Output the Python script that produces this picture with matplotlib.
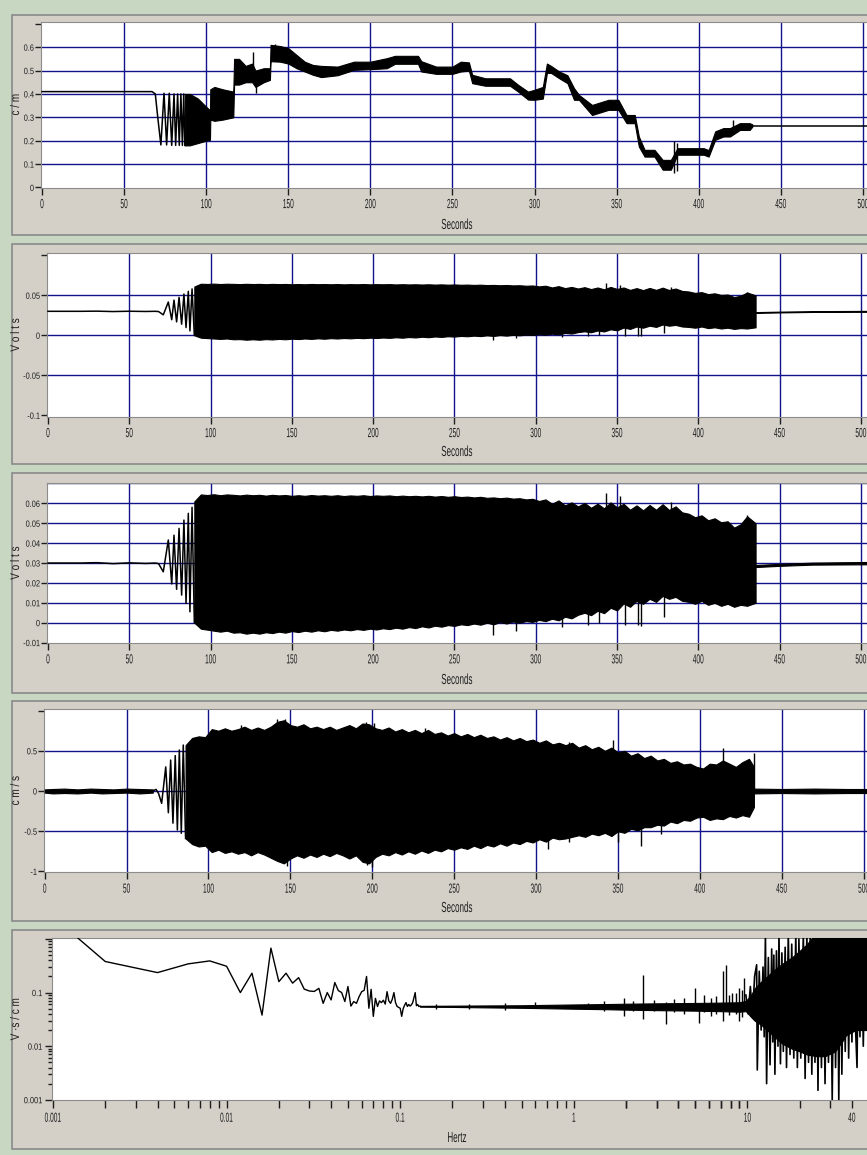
import matplotlib.pyplot as plt
from matplotlib import patheffects
from matplotlib.patches import Rectangle
from matplotlib.ticker import NullFormatter
from matplotlib.transforms import Affine2D

plt.rcParams['font.family'] = ['Liberation Sans', 'DejaVu Sans']
plt.rcParams['axes.unicode_minus'] = False

# ---------------- displacement (c/m) ----------------
t_cm_trace = [0, 67, 69, 70.5, 72.4, 74.3, 75.9, 77.5, 79.0, 80.4, 81.4, 82.6, 83.6, 84.6, 85.5, 86.3, 87.0]
cm_trace = [0.41, 0.41, 0.40, 0.30, 0.182, 0.403, 0.182, 0.403, 0.18, 0.40, 0.18, 0.40, 0.18, 0.40, 0.18, 0.40, 0.18]
t_cm_band = [87, 90, 95, 100, 102.3, 102.5, 105, 110, 116.5, 117, 120, 124, 128, 130, 135,
             138.8, 139.2, 145, 150, 155, 160, 165, 170, 180, 190, 200, 210, 215, 229, 231,
             240, 250, 255, 260, 262, 270, 285, 290, 296, 300, 305, 307.5, 310, 315, 320,
             324, 327, 335, 345, 351, 356, 361, 363.5, 367, 373, 378, 383, 387, 395, 403,
             406, 410, 415, 419, 425, 431, 432.6]
cm_hi = [0.40, 0.40, 0.38, 0.345, 0.33, 0.42, 0.43, 0.42, 0.41, 0.55, 0.55, 0.52, 0.53, 0.50, 0.51,
         0.51, 0.61, 0.605, 0.596, 0.567, 0.538, 0.524, 0.52, 0.517, 0.538, 0.538, 0.553, 0.563, 0.563, 0.54,
         0.517, 0.517, 0.538, 0.535, 0.482, 0.467, 0.467, 0.439, 0.41, 0.418, 0.43, 0.53, 0.52, 0.496, 0.48,
         0.425, 0.396, 0.353, 0.375, 0.375, 0.31, 0.31, 0.218, 0.161, 0.161, 0.118, 0.118, 0.168, 0.168, 0.168,
         0.16, 0.24, 0.254, 0.254, 0.275, 0.275, 0.27]
cm_lo = [0.18, 0.18, 0.19, 0.20, 0.204, 0.29, 0.285, 0.29, 0.30, 0.44, 0.44, 0.45, 0.45, 0.43, 0.45,
         0.46, 0.54, 0.538, 0.53, 0.51, 0.496, 0.482, 0.472, 0.48, 0.503, 0.506, 0.51, 0.529, 0.529, 0.496,
         0.486, 0.486, 0.496, 0.50, 0.446, 0.435, 0.435, 0.41, 0.376, 0.375, 0.38, 0.49, 0.49, 0.467, 0.446,
         0.375, 0.375, 0.31, 0.332, 0.332, 0.275, 0.275, 0.175, 0.132, 0.132, 0.076, 0.076, 0.14, 0.14, 0.14,
         0.132, 0.204, 0.218, 0.218, 0.246, 0.246, 0.26]
t_cm_spk = [122, 128.6, 130.5, 142, 385, 386.5, 421]
cm_spk_lo = [0.45, 0.46, 0.405, 0.55, 0.062, 0.07, 0.25]
cm_spk_hi = [0.53, 0.58, 0.50, 0.615, 0.20, 0.19, 0.29]
t_cm_tail = [432.6, 510]
cm_tail = [0.264, 0.264]

# ---------------- sensor output (Volts) ----------------
t_v_trace = [0, 20, 30, 40, 50, 60, 66, 68, 70.9, 74.0, 76.1, 77.5, 79.1, 80.6, 82.2, 83.6,
             84.9, 86.3, 87.3, 88.6, 90]
v_trace = [0.030, 0.030, 0.0302, 0.0297, 0.0301, 0.0298, 0.030, 0.0297, 0.0256, 0.0416, 0.0195, 0.044,
           0.0168, 0.0474, 0.0139, 0.0516, 0.0097, 0.055, 0.0055, 0.058, 0.0]
t_volt = [90, 94, 98, 102, 106, 110, 114, 118, 122, 126,
          130, 134, 138, 142, 146, 150, 154, 158, 162, 166,
          170, 174, 178, 182, 186, 190, 194, 198, 202, 206,
          210, 214, 218, 222, 226, 230, 234, 238, 242, 246,
          250, 254, 258, 262, 266, 270, 274, 278, 282, 286,
          290, 294, 298, 302, 306, 310, 314, 318, 322, 326,
          330, 334, 338, 342, 346, 350, 354, 358, 362, 366,
          370, 374, 378, 382, 386, 390, 394, 398, 402, 406,
          410, 414, 418, 422, 426, 430, 435.2]
v_hi = [0.061, 0.0645, 0.0642, 0.0646, 0.0641, 0.0645, 0.0643, 0.064, 0.0644, 0.0641,
        0.0643, 0.0639, 0.0643, 0.064, 0.0642, 0.0638, 0.0641, 0.0638, 0.0642, 0.0639,
        0.0641, 0.0638, 0.0641, 0.0637, 0.064, 0.0638, 0.0641, 0.0637, 0.064, 0.0638,
        0.064, 0.0636, 0.0639, 0.0636, 0.0638, 0.0635, 0.0638, 0.0634, 0.0637, 0.0633,
        0.0636, 0.0632, 0.0634, 0.063, 0.0633, 0.0628, 0.063, 0.0626, 0.0629, 0.0624,
        0.0626, 0.062, 0.0623, 0.0612, 0.062, 0.0598, 0.0615, 0.059, 0.0605, 0.0585,
        0.0602, 0.0578, 0.0598, 0.0575, 0.0605, 0.058, 0.0598, 0.0568, 0.059, 0.0565,
        0.0592, 0.0568, 0.0596, 0.0567, 0.0585, 0.0555, 0.0548, 0.053, 0.054, 0.0515,
        0.0525, 0.0505, 0.051, 0.0478, 0.0495, 0.0535, 0.05]
v_lo = [0.0, -0.003, -0.0035, -0.004, -0.0045, -0.004, -0.005, -0.0048, -0.0055, -0.005,
        -0.0055, -0.0048, -0.0052, -0.0045, -0.005, -0.0042, -0.0047, -0.004, -0.0045, -0.0038,
        -0.0043, -0.0036, -0.004, -0.0034, -0.0038, -0.0032, -0.0036, -0.003, -0.0034, -0.0028,
        -0.0032, -0.0025, -0.003, -0.0022, -0.0027, -0.0018, -0.0024, -0.0015, -0.002, -0.0012,
        -0.0016, -0.0008, -0.0012, -0.0004, -0.001, 0.0, -0.0008, 0.0003, -0.0004, 0.0006,
        0.0, 0.0008, 0.0004, 0.0014, 0.0008, 0.002, 0.0012, 0.003, 0.0022, 0.004,
        0.005, 0.0038, 0.006, 0.0048, 0.0075, 0.0062, 0.0097, 0.008, 0.011, 0.0095,
        0.012, 0.0105, 0.0135, 0.012, 0.013, 0.011, 0.0105, 0.0095, 0.011, 0.009,
        0.01, 0.0085, 0.0095, 0.008, 0.009, 0.0085, 0.01]
t_v_spk = [343, 352, 383, 430, 274, 288, 316, 332, 339, 355, 363, 365, 379]
v_spk_lo = [0.03, 0.03, 0.03, 0.03, -0.006, -0.004, -0.002, -0.001, 0.0, -0.001, -0.001, -0.0015, 0.003]
v_spk_hi = [0.065, 0.0635, 0.0605, 0.054, 0.03, 0.03, 0.03, 0.03, 0.03, 0.03, 0.03, 0.03, 0.03]
t_v_tail = [435.2, 450, 470, 510]
v_tail_lo = [0.0280, 0.0286, 0.0292, 0.0294]
v_tail_hi = [0.0290, 0.0296, 0.0302, 0.0306]

# ---------------- velocity (cm/s) ----------------
t_vel_quiet = [0, 5, 12, 20, 28, 35, 42, 50, 58, 66]
vel_quiet_lo = [-0.02, -0.03, -0.025, -0.03, -0.02, -0.03, -0.025, -0.02, -0.03, -0.02]
vel_quiet_hi = [0.02, 0.025, 0.03, 0.02, 0.03, 0.025, 0.02, 0.03, 0.025, 0.02]
t_vel_trace = [66, 68, 69.5, 71.4, 73.9, 75.5, 76.9, 78.3, 79.7, 81.0, 82.2, 83.4, 84.6, 86]
vel_trace = [0.0, 0.02, -0.03, -0.153, 0.30, -0.27, 0.385, -0.40, 0.44, -0.485, 0.51, -0.526, 0.572, -0.59]
t_vel = [86, 90, 94, 98, 102, 106, 110, 114, 118, 122,
         126, 130, 134, 138, 142, 146, 150, 154, 158, 162,
         166, 170, 174, 178, 182, 186, 190, 194, 198, 202,
         206, 210, 214, 218, 222, 226, 230, 234, 238, 242,
         246, 250, 254, 258, 262, 266, 270, 274, 278, 282,
         286, 290, 294, 298, 302, 306, 310, 314, 318, 322,
         326, 330, 334, 338, 342, 346, 350, 354, 358, 362,
         366, 370, 374, 378, 382, 386, 390, 394, 398, 402,
         406, 410, 414, 418, 422, 426, 430, 433]
vel_hi = [0.57, 0.66, 0.68, 0.67, 0.77, 0.75, 0.78, 0.75, 0.77, 0.8,
          0.76, 0.79, 0.76, 0.8, 0.86, 0.88, 0.82, 0.8, 0.83, 0.78,
          0.8, 0.77, 0.8, 0.76, 0.79, 0.82, 0.78, 0.84, 0.83, 0.78,
          0.76, 0.79, 0.74, 0.77, 0.73, 0.76, 0.72, 0.76, 0.71, 0.73,
          0.69, 0.72, 0.68, 0.71, 0.67, 0.7, 0.66, 0.68, 0.64, 0.67,
          0.63, 0.66, 0.62, 0.64, 0.6, 0.63, 0.58, 0.6, 0.57, 0.6,
          0.54, 0.57, 0.52, 0.55, 0.5, 0.54, 0.48, 0.5, 0.44, 0.47,
          0.41, 0.44, 0.38, 0.4, 0.35, 0.37, 0.33, 0.34, 0.3, 0.28,
          0.34, 0.33, 0.38, 0.34, 0.3, 0.36, 0.4, 0.3]
vel_lo = [-0.59, -0.66, -0.69, -0.68, -0.76, -0.73, -0.77, -0.75, -0.78, -0.76,
          -0.8, -0.76, -0.79, -0.83, -0.87, -0.9, -0.84, -0.8, -0.83, -0.79,
          -0.82, -0.78, -0.81, -0.77, -0.8, -0.84, -0.8, -0.88, -0.9, -0.82,
          -0.78, -0.8, -0.76, -0.79, -0.75, -0.78, -0.74, -0.77, -0.73, -0.75,
          -0.71, -0.73, -0.7, -0.72, -0.68, -0.71, -0.67, -0.69, -0.65, -0.68,
          -0.64, -0.66, -0.62, -0.64, -0.6, -0.63, -0.58, -0.6, -0.59, -0.57,
          -0.55, -0.57, -0.53, -0.55, -0.52, -0.56, -0.5, -0.52, -0.47, -0.49,
          -0.45, -0.45, -0.42, -0.43, -0.38, -0.4, -0.36, -0.37, -0.33, -0.32,
          -0.36, -0.34, -0.35, -0.31, -0.33, -0.3, -0.32, -0.2]
t_vel_spk = [120, 142, 147, 196, 201, 232, 320, 346.7, 414, 433,
             138, 148, 196.5, 200, 307, 320, 350, 363.9, 376]
vel_spk_lo = [0, 0, 0, 0, 0, 0, 0, 0, 0, 0,
              -0.82, -0.93, -0.92, -0.95, -0.72, -0.63, -0.63, -0.69, -0.53]
vel_spk_hi = [0.82, 0.89, 0.9, 0.86, 0.84, 0.78, 0.61, 0.64, 0.53, 0.47,
              0, 0, 0, 0, 0, 0, 0, 0, 0]
t_vel_tail = [432.6, 450, 470, 490, 510]
vel_tail_lo = [-0.03, -0.025, -0.03, -0.025, -0.025]
vel_tail_hi = [0.03, 0.025, 0.03, 0.025, 0.025]

# ---------------- transfer spectrum (V s / cm) ----------------
f_low = [0.001, 0.002, 0.004, 0.006, 0.008, 0.010, 0.012, 0.014, 0.016, 0.018, 0.020, 0.022,
         0.024, 0.026, 0.028, 0.030, 0.032, 0.034, 0.036, 0.038, 0.040, 0.042, 0.044, 0.046,
         0.048, 0.050, 0.052, 0.054, 0.056, 0.058, 0.060, 0.062, 0.064, 0.066, 0.068, 0.070,
         0.072, 0.074, 0.076, 0.078, 0.080, 0.082, 0.084, 0.086, 0.088, 0.090, 0.092, 0.094,
         0.096, 0.098, 0.100, 0.102, 0.104, 0.106, 0.108, 0.110, 0.112, 0.114, 0.116, 0.118,
         0.120, 0.122, 0.124, 0.126, 0.128, 0.130]
spec_low = [2.6, 0.38, 0.236, 0.343, 0.39, 0.31, 0.10, 0.23, 0.038, 0.676, 0.16, 0.23,
            0.15, 0.19, 0.116, 0.107, 0.105, 0.12, 0.063, 0.10, 0.073, 0.154, 0.109, 0.10,
            0.068, 0.13, 0.056, 0.068, 0.063, 0.084, 0.104, 0.11, 0.20, 0.051, 0.115, 0.036,
            0.078, 0.055, 0.07, 0.065, 0.072, 0.061, 0.104, 0.07, 0.063, 0.075, 0.10, 0.065,
            0.055, 0.053, 0.051, 0.036, 0.05, 0.058, 0.065, 0.055, 0.06, 0.056, 0.059, 0.065,
            0.08, 0.10, 0.057, 0.06, 0.055, 0.056]
f_mid = [0.13, 0.2, 0.3, 0.5, 0.7, 1.0, 1.5, 2.0, 3.0, 5.0, 7.0, 9.0, 9.8]
spec_mid_lo = [0.0545, 0.054, 0.053, 0.052, 0.051, 0.05, 0.049, 0.048, 0.047, 0.046, 0.045, 0.044, 0.045]
spec_mid_hi = [0.0565, 0.057, 0.0575, 0.058, 0.059, 0.06, 0.061, 0.062, 0.063, 0.064, 0.065, 0.066, 0.07]
f_spk = [0.16, 0.25, 0.4, 0.6, 1.2, 1.5, 1.94, 2.2, 2.5, 2.9, 3.4, 3.8, 4.3, 5.0, 5.25, 5.6,
         6.2, 6.6, 7.2, 7.55, 7.8, 8.2, 8.6, 8.95, 9.3, 9.6]
spec_spk_lo = [0.049, 0.05, 0.048, 0.052, 0.05, 0.045, 0.036, 0.046, 0.032, 0.045, 0.026, 0.044, 0.04,
               0.05, 0.027, 0.044, 0.036, 0.04, 0.03, 0.05, 0.038, 0.05, 0.04, 0.03, 0.035, 0.05]
spec_spk_hi = [0.061, 0.062, 0.063, 0.066, 0.065, 0.07, 0.079, 0.07, 0.21, 0.072, 0.068, 0.075, 0.08,
               0.12, 0.06, 0.09, 0.08, 0.085, 0.25, 0.33, 0.09, 0.10, 0.10, 0.12, 0.11, 0.19]
# solid core above 10 Hz plus the swing between its extremes
f_core = [9.8, 10.5, 11, 12, 13, 14, 15, 16, 18, 20, 22, 25, 28, 32, 35, 37, 42, 46, 53]
spec_core_lo = [0.045, 0.035, 0.03, 0.025, 0.02, 0.016, 0.013, 0.011, 0.009, 0.008, 0.007, 0.0065,
                0.0065, 0.008, 0.012, 0.016, 0.02, 0.02, 0.02]
spec_core_hi = [0.07, 0.09, 0.12, 0.16, 0.2, 0.25, 0.3, 0.35, 0.45, 0.6, 0.8, 1.3,
                1.3, 1.3, 1.3, 1.3, 1.3, 1.3, 1.3]
f_swing = [9.8, 10.1, 10.4, 10.7, 11.0, 11.3, 11.4, 11.7, 12.0, 12.3, 12.5, 12.7, 12.9, 13.2,
           13.5, 13.8, 14.0, 14.2, 14.4, 14.7, 15.0, 15.2, 15.5, 15.8, 16.1, 16.5, 16.8, 17.2,
           17.6, 18.0, 18.5, 19.0, 19.4, 19.8, 20.3, 21.0, 21.5, 22, 22.5, 23, 23.5, 24, 24.5,
           25, 25.5, 26, 26.7, 27.3, 28, 28.7, 29.3, 30, 30.8, 31.5, 32.2, 33, 33.6, 34.3, 35,
           35.8, 36.6, 37.5, 38.3, 39.2, 40.0, 41, 42, 42.8, 43.6, 44.5, 45.5, 46.5, 47.5, 48.5,
           49.5, 50.5, 51.5]
spec_swing = [0.09, 0.04, 0.13, 0.035, 0.2, 0.33, 0.0036, 0.25, 0.02, 0.3, 0.015, 1.3, 0.002, 0.45,
              0.0045, 0.65, 0.012, 0.5, 0.003, 0.6, 0.01, 1.3, 0.0047, 0.55, 0.008, 0.7, 0.004, 1.3,
              0.007, 0.8, 0.006, 1.3, 0.004, 1.0, 0.006, 1.3, 0.0025, 1.3, 0.005, 1.3, 0.003, 1.3, 0.005,
              1.3, 0.0015, 1.3, 0.004, 1.3, 0.002, 1.3, 0.005, 1.3, 0.001, 1.3, 0.004, 1.3, 0.00095, 1.3,
              0.003, 1.3, 0.008, 1.3, 0.006, 1.3, 0.012, 1.3, 0.02, 0.004, 1.3, 0.015, 1.3, 0.01, 0.5,
              0.02, 1.3, 0.012, 1.3]

sec_ticks = [0, 50, 100, 150, 200, 250, 300, 350, 400, 450, 500]
hz_ticks = [0.001, 0.01, 0.1, 1, 10, 40]
hz_labels = ['0.001', '0.01', '0.1', '1', '10', '40']

W, H = 867, 1155
GREEN = '#c7d7c1'
PANEL = '#d4d0c8'
NAVY = '#12128a'
INK = '#1e1e1e'


class Narrow(patheffects.AbstractPathEffect):
    """Squeeze glyph outlines along the text direction."""

    def __init__(self, factor=0.6, pivot=0.5, vertical=False):
        super().__init__()
        self.factor = factor
        self.pivot = pivot
        self.vertical = vertical

    def draw_path(self, renderer, gc, tpath, affine, rgbFace=None):
        box = tpath.get_extents(affine)
        if self.vertical:
            c = box.y0 + self.pivot * box.height
            squash = Affine2D().translate(0, -c).scale(1, self.factor).translate(0, c)
        else:
            c = box.x0 + self.pivot * box.width
            squash = Affine2D().translate(-c, 0).scale(self.factor, 1).translate(c, 0)
        renderer.draw_path(gc, tpath, affine + squash, rgbFace)


fig = plt.figure(figsize=(W / 100, H / 100), dpi=100, facecolor=GREEN)

# grey frames behind each plot
for top, bottom in [(15, 235), (244, 464), (473, 693), (701, 921), (930, 1149)]:
    fig.add_artist(Rectangle((12 / W, 1 - bottom / H), 1, (bottom - top) / H, transform=fig.transFigure,
                             facecolor=PANEL, edgecolor='#8a8a8a', lw=1.2, zorder=-5))


def make_axes(left, top, bottom, right=872):
    ax = fig.add_axes([left / W, 1 - bottom / H, (right - left) / W, (bottom - top) / H])
    ax.set_facecolor('white')
    ax.spines['right'].set_visible(False)
    for s in ['top', 'left', 'bottom']:
        ax.spines[s].set_color('#8c8c8c')
    ax.tick_params(axis='x', which='both', direction='out', length=5, width=1, color=INK,
                   labelsize=9.5, labelcolor=INK, pad=3.2)
    ax.tick_params(axis='y', which='both', direction='out', length=4, width=1, color=INK,
                   labelsize=6.5, labelcolor=INK, pad=1)
    return ax


def finish(ax, left, top, bottom, xlabel, ylabel, xlabel_y, right=872):
    w = right - left
    h = bottom - top
    ax.set_xlabel(xlabel, fontsize=10.5, color=INK)
    ax.set_ylabel(ylabel, fontsize=9, color=INK)
    ax.xaxis.label.set_va('center')
    ax.yaxis.label.set_va('center')
    ax.xaxis.set_label_coords((457 - left) / w, -(xlabel_y - bottom) / h)
    ax.yaxis.set_label_coords((16 - left) / w, 0.5)
    for lab in ax.get_xticklabels():
        lab.set_path_effects([Narrow(0.5)])
    for lab in ax.get_yticklabels():
        lab.set_path_effects([Narrow(0.82, pivot=1.0)])
    ax.xaxis.label.set_path_effects([Narrow(0.55)])
    ax.yaxis.label.set_path_effects([Narrow(0.8, vertical=True)])


def grid(ax, xs, ys):
    for x in xs:
        ax.axvline(x, color=NAVY, lw=1, zorder=1)
    for y in ys:
        ax.axhline(y, color=NAVY, lw=1, zorder=1)


def band(ax, t, lo, hi):
    ax.fill_between(t, lo, hi, color='black', lw=0.8, zorder=3)


def trace(ax, t, v, lw=1.1):
    ax.plot(t, v, color='black', lw=lw, zorder=3)


def spikes(ax, t, lo, hi):
    ax.vlines(t, lo, hi, color='black', lw=1, zorder=3)


# ---- panel 1: c/m ----
ax1 = make_axes(41, 21.7, 187.7)
grid(ax1, sec_ticks[1:], [0.1, 0.2, 0.3, 0.4, 0.5, 0.6])
trace(ax1, t_cm_trace, cm_trace)
band(ax1, t_cm_band, cm_lo, cm_hi)
spikes(ax1, t_cm_spk, cm_spk_lo, cm_spk_hi)
trace(ax1, t_cm_tail, cm_tail)
ax1.set_xlim(-0.61, 505.5)
ax1.set_ylim(-0.001, 0.709)
ax1.set_xticks(sec_ticks, [str(v) for v in sec_ticks])
ax1.set_yticks([0, 0.1, 0.2, 0.3, 0.4, 0.5, 0.6, 0.7], ['0', '0.1', '0.2', '0.3', '0.4', '0.5', '0.6', ''])
finish(ax1, 41, 21.7, 187.7, 'Seconds', 'c / m', 225)

# ---- panels 2 and 3: the same Volts record at two scales ----
ax2 = make_axes(47, 252.7, 416.7)
ax3 = make_axes(47, 482.7, 643)
grid(ax2, sec_ticks[1:], [0.05, 0, -0.05])
grid(ax3, sec_ticks[1:], [0, 0.01, 0.02, 0.03, 0.04, 0.05, 0.06, 0.07])
for ax in (ax2, ax3):
    trace(ax, t_v_trace, v_trace)
    band(ax, t_volt, v_lo, v_hi)
    spikes(ax, t_v_spk, v_spk_lo, v_spk_hi)
    band(ax, t_v_tail, v_tail_lo, v_tail_hi)
    ax.set_xlim(-0.615, 506.8)
    ax.set_xticks(sec_ticks, [str(v) for v in sec_ticks])
ax2.set_ylim(-0.1018, 0.1033)
ax2.set_yticks([-0.1, -0.05, 0, 0.05, 0.1], ['-0.1', '-0.05', '0', '0.05', ''])
finish(ax2, 47, 252.7, 416.7, 'Seconds', 'V o l t s', 452)
ax3.set_ylim(-0.0102, 0.0704)
ax3.set_yticks([-0.01, 0, 0.01, 0.02, 0.03, 0.04, 0.05, 0.06],
               ['-0.01', '0', '0.01', '0.02', '0.03', '0.04', '0.05', '0.06'])
finish(ax3, 47, 482.7, 643, 'Seconds', 'V o l t s', 680)

# ---- panel 4: cm/s ----
ax4 = make_axes(44, 709, 872.3)
grid(ax4, sec_ticks[1:], [0.5, 0, -0.5])
band(ax4, t_vel_quiet, vel_quiet_lo, vel_quiet_hi)
trace(ax4, t_vel_trace, vel_trace)
band(ax4, t_vel, vel_lo, vel_hi)
spikes(ax4, t_vel_spk, vel_spk_lo, vel_spk_hi)
band(ax4, t_vel_tail, vel_tail_lo, vel_tail_hi)
ax4.set_xlim(-0.43, 505.1)
ax4.set_ylim(-1.011, 1.02)
ax4.set_xticks(sec_ticks, [str(v) for v in sec_ticks])
ax4.set_yticks([-1, -0.5, 0, 0.5, 1], ['-1', '-0.5', '0', '0.5', ''])
finish(ax4, 44, 709, 872.3, 'Seconds', 'c m / s', 908)

# ---- panel 5: spectrum ----
ax5 = make_axes(52, 938.3, 1100)
ax5.set_xscale('log')
ax5.set_yscale('log')
trace(ax5, f_low, spec_low, lw=1)
band(ax5, f_mid, spec_mid_lo, spec_mid_hi)
spikes(ax5, f_spk, spec_spk_lo, spec_spk_hi)
band(ax5, f_core, spec_core_lo, spec_core_hi)
trace(ax5, f_swing, spec_swing, lw=1.2)
ax5.set_xlim(0.000987, 52.2)
ax5.set_ylim(0.00099, 1.03)
ax5.set_xticks(hz_ticks, hz_labels)
ax5.set_xticks([k * 10.0 ** e for e in range(-3, 1) for k in range(2, 10)] + [2, 3, 4, 5, 6, 7, 8, 9, 20, 30],
               minor=True)
ax5.set_yticks([0.001, 0.01, 0.1, 1], ['0.001', '0.01', '0.1', ''])
ax5.set_yticks([k * 10.0 ** e for e in range(-3, 0) for k in range(2, 10)], minor=True)
ax5.xaxis.set_minor_formatter(NullFormatter())
ax5.yaxis.set_minor_formatter(NullFormatter())
ax5.tick_params(axis='x', which='both', length=6)
ax5.tick_params(axis='y', which='major', length=5, pad=2)
ax5.tick_params(axis='y', which='minor', length=3)
finish(ax5, 52, 938.3, 1100, 'Hertz', 'V ·s / c m', 1138)

fig.savefig('out.png', dpi=100, facecolor=GREEN)
